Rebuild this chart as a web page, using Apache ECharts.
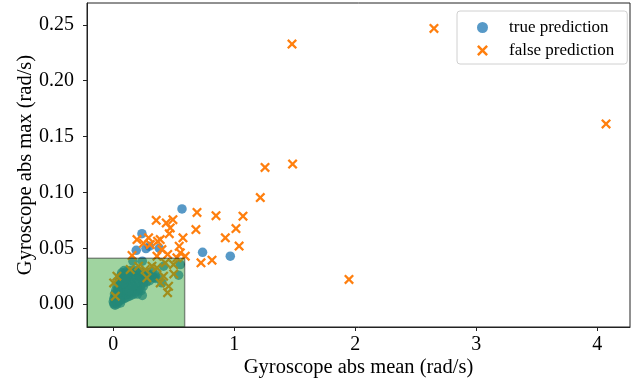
<!DOCTYPE html>
<html><head><meta charset="utf-8">
<script src="https://cdn.jsdelivr.net/npm/echarts@6/dist/echarts.min.js"></script>
<style>html,body{margin:0;padding:0;background:#fff}#c{width:634px;height:383px}</style>
</head><body><div id="c"></div>
<script>
// ---- data ----
const seriesNames = ['true prediction', 'false prediction'];
const xTicks = [0, 1, 2, 3, 4];
const yTicks = [0, 0.05, 0.10, 0.15, 0.20, 0.25];
const xRange = [-0.217, 4.27];
const yRange = [-0.0205, 0.2696];
const regionBox = [[-0.3, -0.03, 0.59, 0.041]]; // x0, y0, x1, y1

const truePoints = [
  [0.568,0.0852],[0.237,0.0631],[0.190,0.0482],[0.298,0.0518],[0.270,0.0497],[0.380,0.0500],
  [0.738,0.0464],[0.967,0.0429],[0.554,0.0354],[0.540,0.0259],[0.240,0.0078],[0.163,0.0384],
  [0.240,0.0384],[0.416,0.0339],[0.402,0.0191],[0.250,0.0161],[0.333,0.0236],[0.347,0.0265],
  [0.00,0.002],[0.01,0.001],[0.02,0.003],[0.005,0.005],[0.015,0.006],[0.03,0.004],[0.04,0.002],[0.05,0.004],[0.025,0.008],[0.01,0.009],
  [0.035,0.007],[0.045,0.009],[0.06,0.006],[0.07,0.004],[0.055,0.011],[0.02,0.012],[0.04,0.013],[0.065,0.010],[0.08,0.007],[0.09,0.005],
  [0.03,0.016],[0.05,0.015],[0.075,0.013],[0.085,0.010],[0.1,0.008],[0.11,0.006],[0.045,0.019],[0.06,0.018],[0.07,0.016],[0.095,0.013],
  [0.12,0.009],[0.13,0.007],[0.05,0.022],[0.065,0.021],[0.08,0.019],[0.1,0.017],[0.115,0.013],[0.14,0.010],[0.15,0.008],[0.06,0.025],
  [0.075,0.024],[0.09,0.022],[0.11,0.020],[0.125,0.017],[0.145,0.014],[0.16,0.011],[0.17,0.009],[0.07,0.028],[0.085,0.027],[0.1,0.026],
  [0.12,0.024],[0.135,0.021],[0.155,0.018],[0.175,0.014],[0.185,0.011],[0.09,0.030],[0.11,0.029],[0.13,0.028],[0.15,0.025],[0.165,0.022],
  [0.185,0.019],[0.2,0.015],[0.21,0.012],[0.14,0.030],[0.16,0.029],[0.175,0.026],[0.19,0.023],[0.21,0.020],[0.225,0.016],[0.18,0.030],
  [0.2,0.028],[0.215,0.025],[0.235,0.022],[0.25,0.019],[0.22,0.029],[0.24,0.026],[0.26,0.023],[0.275,0.020],[0.25,0.028],[0.27,0.026],
  [0.29,0.024],[0.3,0.021],[0.28,0.028],[0.31,0.026],[0.33,0.024],[0.35,0.023],[0.37,0.024],[0.32,0.029],[0.2,0.009],[0.23,0.012],
  [0.005,0.0],[0.015,-0.001],[0.03,0.0],[0.06,0.001],[0.035,0.010],[0.055,0.003],[0.095,0.018],[0.105,0.023],[0.13,0.012],[0.16,0.016]
];

const falsePoints = [
  [2.65,0.2468],[4.072,0.1613],[1.477,0.2328],[1.254,0.1224],[1.482,0.1254],[1.215,0.0954],
  [1.072,0.0787],[1.04,0.052],[1.948,0.0221],[0.692,0.0821],[0.849,0.0792],[1.014,0.0676],
  [0.926,0.0593],[0.683,0.0667],[0.816,0.0393],[0.725,0.037],[0.576,0.0593],[0.595,0.0429],
  [0.355,0.0750],[0.438,0.0727],[0.493,0.0756],[0.471,0.0682],[0.463,0.0631],[0.196,0.0578],
  [0.292,0.0593],[0.366,0.0563],[0.545,0.0518],[0.554,0.0459],[0.155,0.0435],[0.402,0.0488],
  [0.306,0.0533],[0.526,0.0414],[0.361,0.0429],[0.388,0.0578],[0.25,0.0545],[0.45,0.0445],
  [0.264,0.031],[0.32,0.034],[0.416,0.025],[0.457,0.016],[0.449,0.0102],[0.388,0.019],
  [0.278,0.0236],[0.017,0.0071],[0.003,0.019],[0.03,0.025],[0.14,0.031],[0.209,0.034],
  [0.361,0.0325],[0.498,0.0354],[0.43,0.037],[0.5,0.027]
];

// ---- chart ----
const serif = 'Liberation Serif';
const xPath = 'path://M0,1.6L1.6,0L5,3.4L8.4,0L10,1.6L6.6,5L10,8.4L8.4,10L5,6.6L1.6,10L0,8.4L3.4,5Z';
const chart = echarts.init(document.getElementById('c'), null, {renderer: 'canvas'});
chart.setOption({
  animation: false,
  grid: {left: 87, right: 4, top: 3, bottom: 56, show: true, borderColor: '#222', borderWidth: 1,
    backgroundColor: 'transparent', containLabel: false, outerBoundsMode: 'none'},
  legend: {
    left: 457, top: 11, orient: 'vertical',
    data: [{name: seriesNames[0], icon: 'circle'}, {name: seriesNames[1], icon: xPath}],
    itemWidth: 11, itemHeight: 11, itemGap: 6,
    padding: [8, 13, 5, 20],
    borderColor: '#d0d0d0', borderWidth: 1, borderRadius: 3, backgroundColor: 'rgba(255,255,255,0.8)',
    textStyle: {fontFamily: serif, fontSize: 17, color: '#000', padding: [0, 0, 0, 16]}
  },
  xAxis: {
    type: 'value', min: xRange[0], max: xRange[1],
    name: 'Gyroscope abs mean (rad/s)', nameLocation: 'middle', nameGap: 30, nameMoveOverlap: false,
    nameTextStyle: {fontFamily: serif, fontSize: 20.5, color: '#000'},
    axisLine: {show: true, onZero: false, lineStyle: {color: '#222', width: 1}},
    axisTick: {show: true, length: 4, customValues: xTicks, lineStyle: {color: '#222'}},
    axisLabel: {customValues: xTicks, fontFamily: serif, fontSize: 20, color: '#000', margin: 8},
    splitLine: {show: false}
  },
  yAxis: {
    type: 'value', min: yRange[0], max: yRange[1],
    name: 'Gyroscope abs max (rad/s)', nameLocation: 'middle', nameGap: 51, nameMoveOverlap: false,
    nameTextStyle: {fontFamily: serif, fontSize: 20.5, color: '#000'},
    axisLine: {show: true, onZero: false, lineStyle: {color: '#222', width: 1}},
    axisTick: {show: true, length: 4, customValues: yTicks, lineStyle: {color: '#222'}},
    axisLabel: {customValues: yTicks, fontFamily: serif, fontSize: 20, color: '#000', margin: 13,
      formatter: v => v.toFixed(2)},
    splitLine: {show: false}
  },
  series: [
    {name: seriesNames[0], type: 'scatter', data: truePoints, symbol: 'circle', symbolSize: 9.5,
     itemStyle: {color: 'rgba(31,119,180,0.75)', opacity: 1}, z: 2},
    {name: seriesNames[1], type: 'scatter', data: falsePoints, symbol: xPath, symbolSize: 10,
     itemStyle: {color: '#ff7f0e', opacity: 1}, z: 3},
    {type: 'custom', data: regionBox, z: 6, silent: true, clip: true,
     renderItem: function (params, api) {
       const p0 = api.coord([api.value(0), api.value(1)]);
       const p1 = api.coord([api.value(2), api.value(3)]);
       const cs = params.coordSys;
       const rect = echarts.graphic.clipRectByRect(
         {x: p0[0], y: p1[1], width: p1[0] - p0[0], height: p0[1] - p1[1]},
         {x: cs.x, y: cs.y, width: cs.width, height: cs.height});
       return {type: 'rect', shape: rect,
         style: {fill: 'rgba(44,160,44,0.45)', stroke: 'rgba(0,0,0,0.4)', lineWidth: 1.5}};
     }}
  ]
});
</script></body></html>
